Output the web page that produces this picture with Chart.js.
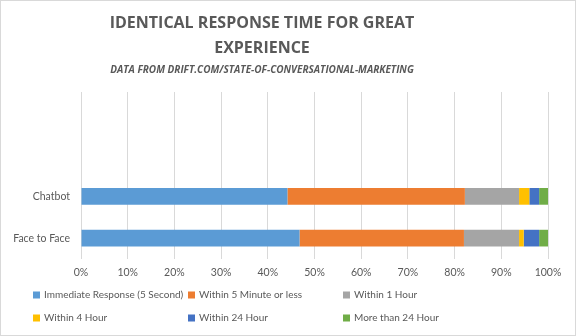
<!DOCTYPE html>
<html>
<head>
<meta charset="utf-8">
<script src="https://cdn.jsdelivr.net/npm/chart.js@4/dist/chart.umd.min.js"></script>
<style>
  html, body { margin: 0; padding: 0; background: #fff; }
  #caixa { width: 576px; height: 336px; box-sizing: border-box; border: 1px solid #d9d9d9; position: relative; }
</style>
</head>
<body>
<div id="caixa"><canvas id="grafico"></canvas></div>
<script>
// categorias (as duas primeiras ficam vazias, como no original)
const categorias = ['', '', 'Chatbot', 'Face to Face'];
const series = ['Immediate Response (5 Second)', 'Within 5 Minute or less', 'Within 1 Hour',
                'Within 4 Hour', 'Within 24 Hour', 'More than 24 Hour'];
const immediate = [null, null, 44.2, 46.8];
const within5Min = [null, null, 38.0, 35.2];
const within1Hour = [null, null, 11.6, 11.8];
const within4Hour = [null, null, 2.2, 1.0];
const within24Hour = [null, null, 2.1, 3.3];
const moreThan24 = [null, null, 1.9, 1.9];
const ticksX = [0, 10, 20, 30, 40, 50, 60, 70, 80, 90, 100];
const titulo = ['IDENTICAL RESPONSE TIME FOR GREAT', 'EXPERIENCE'];
const subtitulo = 'DATA FROM DRIFT.COM/STATE-OF-CONVERSATIONAL-MARKETING';

const cores = ['#5B9BD5', '#ED7D31', '#A5A5A5', '#FFC000', '#4472C4', '#70AD47'];
const valores = [immediate, within5Min, within1Hour, within4Hour, within24Hour, moreThan24];
const corTexto = '#595959';
const fonteTexto = 'Lato';

// título e subtítulo (no Excel ficam um pouco à esquerda do centro)
const tituloExcel = {
    id: 'tituloExcel',
    afterDraw(chart) {
        const ctx = chart.ctx;
        ctx.save();
        ctx.fillStyle = corTexto;
        ctx.textAlign = 'center';
        ctx.textBaseline = 'middle';
        const cx = 261;
        ctx.font = 'bold 16px "Open Sans"';
        titulo.forEach((linha, i) => ctx.fillText(linha, cx, 22 + i * 25));
        ctx.font = 'italic bold 10px "Open Sans"';
        ctx.fillText(subtitulo, cx, 69);
        ctx.restore();
    }
};

// legenda desenhada em grade de 3 colunas, como no Excel
const legendaGrade = {
    id: 'legendaGrade',
    afterDraw(chart) {
        const ctx = chart.ctx;
        ctx.save();
        ctx.font = '10px ' + fonteTexto;
        ctx.textBaseline = 'middle';
        const colunas = [32, 187, 342];
        const linhas = [294, 317];
        chart.data.datasets.forEach((ds, i) => {
            const x = colunas[i % 3];
            const y = linhas[Math.floor(i / 3)];
            ctx.fillStyle = ds.backgroundColor;
            ctx.fillRect(x, y - 3.5, 7, 7);
            ctx.fillStyle = corTexto;
            ctx.fillText(ds.label, x + 11, y);
        });
        ctx.restore();
    }
};

const ctx = document.getElementById('grafico').getContext('2d');
new Chart(ctx, {
    type: 'bar',
    data: {
        labels: categorias,
        datasets: series.map((nome, i) => ({
            label: nome,
            data: valores[i],
            backgroundColor: cores[i],
            borderWidth: 0,
            barPercentage: 0.4,
            categoryPercentage: 1
        }))
    },
    options: {
        indexAxis: 'y',
        responsive: true,
        maintainAspectRatio: false,
        animation: false,
        layout: { padding: { top: 91, left: 9, right: 27, bottom: 49.4 } },
        plugins: {
            legend: { display: false },
            tooltip: { enabled: false }
        },
        scales: {
            x: {
                stacked: true,
                min: 0,
                max: 100,
                afterBuildTicks: s => { s.ticks = ticksX.map(v => ({ value: v })); },
                ticks: {
                    color: corTexto,
                    font: { family: fonteTexto, size: 10.5 },
                    padding: 7,
                    callback: v => v + '%'
                },
                grid: { color: '#d9d9d9', drawTicks: false },
                border: { display: false }
            },
            y: {
                stacked: true,
                afterFit: s => { s.width = 71; },
                ticks: {
                    color: corTexto,
                    font: { family: fonteTexto, size: 10.5 },
                    padding: 11
                },
                grid: { display: false, drawTicks: false },
                border: { display: false }
            }
        }
    },
    plugins: [tituloExcel, legendaGrade]
});
</script>
</body>
</html>
